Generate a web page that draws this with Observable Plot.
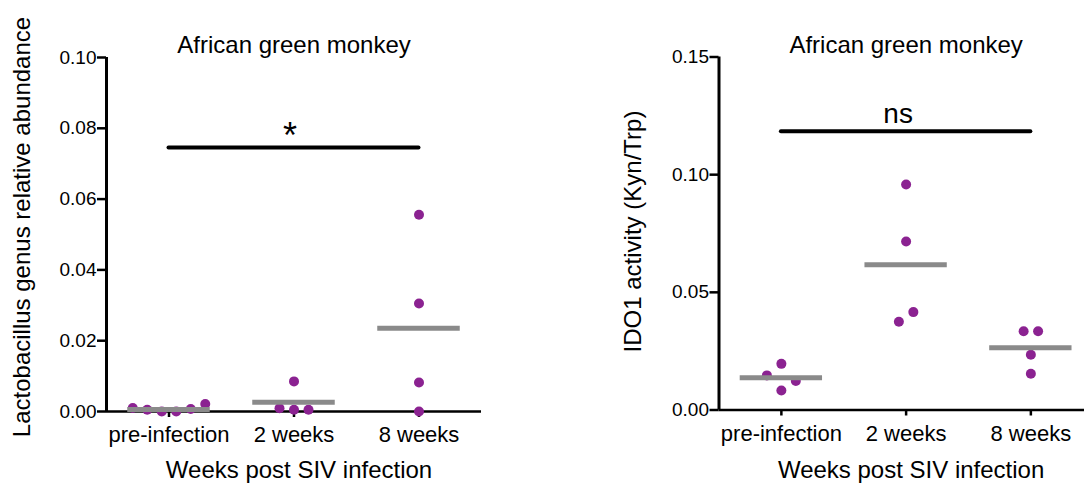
<!DOCTYPE html>
<html><head><meta charset="utf-8">
<script src="https://cdn.jsdelivr.net/npm/d3@7"></script>
<script src="https://cdn.jsdelivr.net/npm/@observablehq/plot@0.6"></script>
<style>
body{margin:0;background:#fff;}
#wrap{display:flex;width:1084px;height:483px;overflow:hidden;}
</style></head><body><div id="wrap"></div>
<script>
// ---- data ----
const categories = ["pre-infection", "2 weeks", "8 weeks"];
const lactoPre = [0.0010, 0.0005, 0.0000, 0.0000, 0.0007, 0.0021];
const lacto2wk = [0.0009, 0.0005, 0.0005, 0.0085];
const lacto8wk = [0.0556, 0.0305, 0.0082, 0.0000];
const lactoMeans = [0.0006, 0.0026, 0.0235];
const idoPre = [0.0147, 0.0083, 0.0123, 0.0196];
const ido2wk = [0.0375, 0.0416, 0.0716, 0.0958];
const ido8wk = [0.0335, 0.0335, 0.0235, 0.0154];
const idoMeans = [0.0137, 0.0617, 0.0264];
const lactoTicks = [0, 0.02, 0.04, 0.06, 0.08, 0.10];
const idoTicks = [0, 0.05, 0.10, 0.15];
const lactoSig = {from: 0, to: 2, value: 0.0746, label: "*"};
const idoSig = {from: 0, to: 2, value: 0.1184, label: "ns"};
const panelTitle = "African green monkey";
const xTitle = "Weeks post SIV infection";
const lactoYTitle = "Lactobacillus genus relative abundance";
const idoYTitle = "IDO1 activity (Kyn/Trp)";

const FONT = "'Liberation Sans', Arial, Helvetica, sans-serif";
const PURPLE = "#8b2291";
const GRAY = "#8a8a8a";

// GraphPad-like scatter: points close in value share a row and spread sideways
function layout(groups, pxPerUnit, thrPx, step) {
  const out = [];
  groups.forEach((vals, gi) => {
    const order = d3.range(vals.length).sort((a, b) => vals[a] - vals[b]);
    const rows = [];
    let cur = null;
    for (const k of order) {
      if (!cur || (vals[k] - vals[cur[0]]) * pxPerUnit > thrPx) { cur = [k]; rows.push(cur); }
      else cur.push(k);
    }
    for (const row of rows) {
      row.sort((a, b) => a - b);
      row.forEach((k, j) => out.push({g: gi, x: gi + (j - (row.length - 1) / 2) * step, y: vals[k]}));
    }
  });
  return out;
}

function panel(o) {
  const H = 483, W = 542;
  const pxY = (H - o.mt - o.mb) / (o.yDomain[1] - o.yDomain[0]);
  const pts = layout(o.groups, pxY, 16, 0.116);
  const means = o.means.map((m, i) => ({i, m}));
  return Plot.plot({
    width: W, height: H,
    marginTop: o.mt, marginBottom: o.mb, marginLeft: o.ml, marginRight: o.mr,
    style: {fontFamily: FONT, color: "#000", background: "#fff", overflow: "visible"},
    x: {type: "linear", domain: o.xDomain},
    y: {domain: o.yDomain},
    marks: [
      Plot.axisY({ticks: o.yTicks, tickSize: 9, tickPadding: 1, fontSize: 19, strokeWidth: 2.5, tickFormat: d3.format(".2f"), label: null}),
      Plot.axisX({ticks: [0, 1, 2], tickSize: 6, tickPadding: 9, fontSize: 22, strokeWidth: 2.5, tickFormat: i => categories[i], label: null}),
      Plot.ruleX([o.xDomain[0]], {stroke: "#000", strokeWidth: 3}),
      Plot.ruleY([o.yDomain[0]], {stroke: "#000", strokeWidth: 2.5}),
      Plot.dot(pts, {x: "x", y: "y", r: 5, fill: PURPLE, stroke: null}),
      Plot.ruleY(means, {y: "m", x1: d => d.i - 0.33, x2: d => d.i + 0.33, stroke: GRAY, strokeWidth: 5}),
      Plot.ruleY([o.sig], {y: "value", x1: "from", x2: "to", stroke: "#000", strokeWidth: 4, strokeLinecap: "round"}),
      Plot.text([o.sig], {x: d => (d.from + d.to) / 2, y: "value", text: "label", fontSize: o.sigFont, lineAnchor: "bottom", dx: o.sigDx, dy: o.sigDy}),
      Plot.text([panelTitle], {x: 1, frameAnchor: "top", lineAnchor: "bottom", fontSize: 24, dy: 52 - o.mt}),
      Plot.text([xTitle], {x: 1, frameAnchor: "bottom", lineAnchor: "bottom", fontSize: 24, dx: 5, dy: 477 - (H - o.mb)}),
      Plot.text([o.yTitle], {frameAnchor: "left", textAnchor: "middle", rotate: -90, lineAnchor: "bottom", fontSize: 24, dx: o.ytX - o.ml, dy: o.ytDy})
    ]
  });
}

const wrap = document.getElementById("wrap");
wrap.append(panel({
  groups: [lactoPre, lacto2wk, lacto8wk], means: lactoMeans, sig: lactoSig,
  yDomain: [0, 0.10], yTicks: lactoTicks, yTitle: lactoYTitle,
  mt: 57, mb: 72, ml: 106, mr: 61, xDomain: [-0.5, 2.5],
  sigFont: 36, sigDx: -4, sigDy: 1, ytX: 29.5, ytDy: -7.5
}));
wrap.append(panel({
  groups: [idoPre, ido2wk, ido8wk], means: idoMeans, sig: idoSig,
  yDomain: [0, 0.15], yTicks: idoTicks, yTitle: idoYTitle,
  mt: 56.5, mb: 73.5, ml: 176.5, mr: 0, xDomain: [-0.5, 2.43],
  sigFont: 28, sigDx: -8, sigDy: -8, ytX: 98, ytDy: -2
}));
</script></body></html>
